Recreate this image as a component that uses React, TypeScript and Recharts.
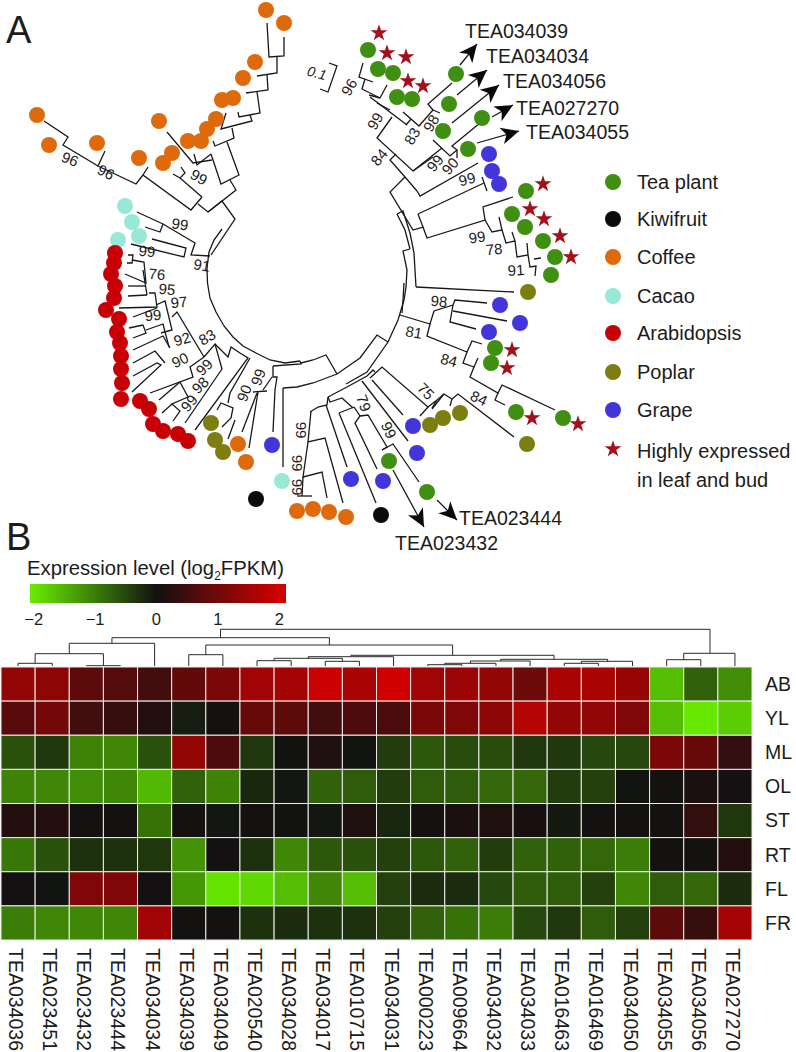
import { ReferenceArea, Scatter, ScatterChart, Symbols, XAxis, YAxis } from 'recharts'

type Pt = [number, number]

const FONT = '"Liberation Sans", Arial, sans-serif'
const INK = '#1c1c1c'

// tree tips
const teaPlant: Pt[] = [[368,50],[378,69],[393,73],[397,97],[412,99],[456,74],[449,104],[443,131],[482,118],[468,149],[526,191],[512,214],[525,227],[543,241],[555,257],[551,275],[495,348],[491,363],[516,412],[563,418],[389,461],[427,492]]
const kiwifruit: Pt[] = [[256,499],[381,515]]
const coffee: Pt[] = [[266,10],[284,23],[255,62],[243,78],[222,100],[233,98],[216,119],[207,129],[188,141],[201,141],[159,121],[139,158],[172,153],[163,163],[97,143],[49,145],[37,115],[238,444],[246,462],[297,511],[313,509],[329,512],[346,517]]
const cacao: Pt[] = [[125,206],[132,222],[139,236],[118,240],[282,481]]
const arabidopsis: Pt[] = [[115,253],[114,263],[111,274],[115,286],[114,298],[106,310],[119,319],[117,332],[120,343],[121,356],[121,369],[122,383],[121,399],[140,401],[149,409],[153,424],[163,431],[178,434],[188,441]]
const poplar: Pt[] = [[211,423],[215,440],[223,452],[528,292],[527,444],[430,425],[443,418],[460,413]]
const grape: Pt[] = [[489,154],[492,171],[499,184],[500,305],[520,323],[489,332],[413,426],[417,453],[383,481],[351,479],[272,445]]
const stars: Pt[] = [[379,33],[387,53],[406,57],[408,81],[423,86],[543,184],[530,209],[544,219],[560,236],[571,257],[512,350],[507,368],[532,418],[578,424]]

const speciesNames = ['Tea plant', 'Kiwifruit', 'Coffee', 'Cacao', 'Arabidopsis', 'Poplar', 'Grape']
const speciesTips = [teaPlant, kiwifruit, coffee, cacao, arabidopsis, poplar, grape]
const speciesColors = ['#3f8f12', '#0b0b0b', '#de6a0c', '#98e8d8', '#c80006', '#7c7e12', '#4335dc']
const legendY = [182, 219, 257, 296, 333, 372, 410]

// branches of the tree, one polyline per list
const coreArcs: Pt[][] = [
  [[222,229],[214,240],[209,252],[207,268],[207.5,283],[210,298],[216,312],[224,326],[233,337],[243,346],[256,353],[270,360],[285,363],[300,361]],
  [[273,366],[301,364],[300,361]],
  [[301,363],[313,360],[326,355],[337,374]],
  [[283,388],[297,387],[313,383],[337,374],[360,358],[377,335],[388,342]],
  [[346,384],[367,372],[388,342],[398,320],[404,300],[406,287],[407,270],[403,251],[410,249]],
  [[404,283],[403,300],[402,313]],
  [[397,214],[405,230],[410,249]],
  [[397,214],[403,211],[410,233],[414,253],[416,287]],
]
const coffeeBranches: Pt[][] = [
  [[267,23],[269,57],[284,56],[284,37]],
  [[277,57],[277,73],[257,76]],
  [[267,75],[268,90],[246,93]],
  [[257,92],[260,113],[239,117],[238,112]],
  [[250,115],[252,121],[221,129],[226,113]],
  [[232,128],[234,138],[215,146],[213,141]],
  [[227,142],[239,175],[221,184],[211,154]],
  [[211,154],[197,165],[194,154]],
  [[167,132],[193,163],[212,160]],
  [[230,180],[236,190],[208,212],[198,204]],
  [[202,197],[191,210],[143,175],[148,167]],
  [[173,174],[180,178],[185,173],[181,167]],
  [[180,178],[202,197]],
  [[143,175],[136,184],[98,166],[105,151]],
  [[98,166],[63,145],[68,137],[44,121]],
  [[208,212],[222,201],[235,219],[211,255]],
  [[257,393],[242,432]],
  [[253,392],[267,391]],
  [[258,392],[249,448]],
  [[311,411],[308,442],[325,438],[343,503]],
  [[308,442],[303,477],[322,472],[327,498]],
  [[303,477],[302,496]],
  [[297,496],[312,496]],
]
const cacaoBranches: Pt[][] = [
  [[137,212],[163,224],[160,232],[145,227]],
  [[163,224],[195,243],[191,255],[210,256]],
  [[152,239],[186,248],[184,257],[131,244]],
  [[283,388],[283,467]],
]
const arabidopsisBranches: Pt[][] = [
  [[128,255],[133,255],[132,263],[127,263]],
  [[132,260],[144,262],[146,283],[125,274]],
  [[146,286],[128,286]],
  [[147,295],[128,296]],
  [[143,270],[147,295]],
  [[149,293],[155,293],[157,307],[119,308]],
  [[156,305],[165,301],[172,330],[161,333]],
  [[133,317],[157,308]],
  [[172,317],[177,312],[204,357]],
  [[204,357],[215,344],[222,369],[185,423]],
  [[204,357],[190,367],[193,377],[150,393]],
  [[180,382],[159,400]],
  [[180,382],[188,397],[172,404],[180,411],[173,421]],
  [[172,404],[162,413]],
  [[143,325],[129,328]],
  [[143,325],[146,333],[133,338]],
  [[146,330],[163,324],[169,347]],
  [[133,350],[163,336],[170,348]],
  [[133,363],[155,351],[165,363]],
  [[133,376],[157,363],[161,365],[132,392]],
  [[215,344],[228,357],[231,347],[240,353],[248,358],[195,430]],
]
const poplarBranches: Pt[][] = [
  [[250,358],[230,393],[228,403]],
  [[217,410],[221,403],[233,408],[231,418],[222,427]],
  [[235,420],[228,439]],
  [[416,287],[514,292]],
]
const grapeBranches: Pt[][] = [
  [[273,366],[273,377],[277,377],[275,390],[273,432]],
  [[263,390],[272,377]],
  [[418,214],[484,183]],
  [[482,177],[487,191]],
  [[417,191],[420,196],[478,163]],
  [[400,315],[430,324],[434,311],[453,305],[455,300],[487,303]],
  [[453,305],[450,322],[476,329]],
  [[453,311],[507,321]],
  [[372,380],[403,415]],
  [[362,381],[408,441]],
  [[339,413],[354,407]],
  [[326,405],[347,467]],
]
const teaBranches: Pt[][] = [
  [[363,63],[359,77],[373,82]],
  [[365,79],[362,89],[380,98],[387,85]],
  [[369,95],[380,98]],
  [[370,97],[407,125]],
  [[377,103],[390,110]],
  [[392,117],[377,138],[413,171],[433,157]],
  [[413,171],[442,148]],
  [[396,154],[390,160],[405,177],[417,191]],
  [[405,177],[390,192],[413,230],[423,227],[418,214]],
  [[403,112],[419,126],[433,110],[428,104],[452,83]],
  [[433,110],[440,113]],
  [[406,125],[411,119]],
  [[433,140],[450,156],[457,150],[452,146],[480,123]],
  [[457,150],[457,158]],
  [[423,227],[427,238],[485,220],[483,207],[513,197]],
  [[485,220],[492,232],[502,230],[499,217]],
  [[502,230],[506,243],[515,241],[512,232]],
  [[515,241],[517,257],[528,255],[527,243]],
  [[528,255],[530,267],[536,266],[535,276]],
  [[534,259],[541,258]],
  [[430,324],[427,336],[467,352],[472,341],[482,344]],
  [[467,352],[463,363],[474,367],[478,358]],
  [[474,367],[470,377],[498,393],[502,385],[555,410]],
  [[498,393],[495,400],[505,405]],
  [[328,397],[347,387],[367,376],[373,370],[375,372]],
  [[310,412],[318,407],[327,405],[328,397]],
  [[328,397],[330,402],[342,398],[353,408]],
  [[339,413],[376,503]],
  [[354,407],[360,416],[355,423],[377,469]],
  [[360,416],[368,415],[387,447],[382,450]],
  [[382,450],[393,444],[419,482]],
  [[370,378],[382,367],[428,407],[420,416]],
  [[428,407],[437,400],[432,408]],
  [[437,400],[444,394],[452,399],[450,406]],
  [[444,394],[432,409]],
  [[452,399],[458,394],[514,437]],
]
const scaleBar: Pt[] = [[329,63],[337,66],[328,92],[320,89]]
const arrowTails: Pt[] = [[460,65],[457,95],[452,123],[492,117],[477,143],[393,470],[437,500]]
const arrowTips: Pt[] = [[477,44],[487,70],[499,85],[513,105],[519,131],[424,527],[457,520]]

const supportLabels: [number, number, string, number][] = [
  [70,159,'96',22],[106,172,'96',28],[199,177,'99',30],[180,224,'99',8],[147,251,'99',5],[202,265,'91',10],
  [157,274,'76',5],[167,289,'95',5],[179,302,'97',-6],[153,315,'99',-6],[182,339,'92',-16],[207,337,'83',-30],
  [180,360,'90',-25],[204,367,'99',-45],[200,385,'98',-45],[189,403,'99',-50],[244,393,'90',-70],[258,377,'99',-70],
  [349,87,'96',-60],[375,121,'99',-60],[412,136,'83',-60],[431,123,'98',-60],[379,157,'84',-50],[435,163,'99',-50],[450,166,'90',-50],
  [467,179,'99',-15],[477,237,'99',-10],[494,249,'78',-5],[516,270,'91',-4],[439,301,'98',5],[414,332,'81',10],[449,360,'84',15],
  [479,398,'84',25],[426,391,'75',45],[364,403,'79',70],[389,430,'99',65],[301,430,'99',90],[297,463,'99',90],[297,487,'99',90],
]
const geneCallouts: [number, number, string][] = [
  [465,31,'TEA034039'],[486,56,'TEA034034'],[503,81,'TEA034056'],[516,108,'TEA027270'],[526,132,'TEA034055'],[459,518,'TEA023444'],[395,543,'TEA023432'],
]

// heat map
const genes = ['TEA034036','TEA023451','TEA023432','TEA023444','TEA034034','TEA034039','TEA034049','TEA020540','TEA034028','TEA034017','TEA010715','TEA034031','TEA000223','TEA009664','TEA034032','TEA034033','TEA016463','TEA016469','TEA034050','TEA034055','TEA034056','TEA027270']
const tissues = ['AB', 'YL', 'ML', 'OL', 'ST', 'RT', 'FL', 'FR']
const rowAB = [1.35,1.3,0.8,0.7,0.5,0.85,1.1,1.5,1.55,1.95,1.6,2,1.5,1.45,1.35,0.95,1.6,1.6,1.4,-1.6,-0.75,-1.15]
const rowYL = [0.75,1.05,0.5,0.4,0.2,-0.1,0.05,0.9,0.8,0.5,0.65,0.6,1.1,1.15,1.3,1.7,1.35,1.35,1.15,-1.6,-2,-1.75]
const rowML = [-0.6,-0.35,-1.05,-1.1,-0.6,1.35,0.65,-0.35,-0.02,0.15,-0.03,-0.4,-0.65,-0.55,-0.55,-0.35,-0.35,-0.5,-0.5,1.1,0.9,0.35]
const rowOL = [-1.05,-1.1,-1.15,-1.1,-1.55,-0.75,-1.05,-0.2,-0.05,-0.75,-0.7,-0.4,-0.7,-0.7,-0.8,-0.8,-0.4,-0.45,-0.03,0.03,0.1,0.02]
const rowST = [0.2,0.2,0.05,0.05,-0.9,0.05,-0.05,0.03,-0.02,-0.05,0.15,-0.2,0.05,0.1,0.15,0.07,-0.08,0.03,0.03,0.03,0.35,-0.35]
const rowRT = [-0.95,-0.6,-0.3,-0.3,-0.35,-1.2,0.02,-0.3,-1.1,-0.65,-0.6,-0.45,-0.65,-0.75,-0.4,-0.75,-0.75,-0.8,-1,0.03,0.03,0.2]
const rowFL = [0.02,-0.03,1.15,1.15,0.02,-1.25,-1.95,-1.85,-1.6,-1.1,-1.6,-0.45,-0.25,-0.25,-0.5,-0.7,-0.7,-0.45,-1.1,-0.7,-0.8,-0.25]
const rowFR = [-1,-1.1,-1.1,-1.1,1.5,0.03,0.05,-0.3,-0.25,-0.3,-0.3,-0.45,-0.75,-0.9,-1,-0.5,-0.35,-0.7,-0.45,0.8,0.4,1.55]
const heatRows = [rowAB, rowYL, rowML, rowOL, rowST, rowRT, rowFL, rowFR]
const colorTicks = [-2, -1, 0, 1, 2]

// dendrogram merges: left column, right column, height, left base, right base
const merges: number[][] = [
  [0,1,3.7,1,1],[2,3,1.3,1,1],[0.5,2.5,13.3,3.7,1.3],[1.5,4,23.7,13.3,1],[5,6,12.3,1,1],[7,8,6.3,1,1],[9,10,5.7,1,1],
  [7.5,9.5,8.7,6.3,5.7],[8.5,11,10.3,8.7,1],[12,13,2.3,1,1],[12.5,14,3.7,2.3,1],[13.25,15,6,3.7,1],[16,17,3.7,1,1],
  [16.5,18,5.7,3.7,1],[14.14,17.27,7.7,6,5.7],[9.75,15.7,11.7,10.3,7.7],[5.5,12.73,22,12.3,11.7],[2.75,9.12,29.3,23.7,22],
  [19,20,7.3,1,1],[19.5,21,13.7,7.3,1],[5.93,20.27,37.7,29.3,13.7],
]

const heatColor = (v: number) => {
  const t = Math.min(Math.abs(v) / 2, 1)
  const mix = (a: number, b: number) => Math.round(a + (b - a) * t)
  return v >= 0 ? `rgb(${mix(17, 208)},${mix(17, 0)},${mix(17, 0)})` : `rgb(${mix(17, 102)},${mix(17, 232)},${mix(17, 0)})`
}

const heatCells = heatRows.flatMap((row, r) => row.map((value, c) => ({ col: c, row: r, value })))
const asPoints = (pts: Pt[]) => pts.map(([x, y]) => ({ x, y }))
const allBranches = [...coreArcs, ...coffeeBranches, ...cacaoBranches, ...arabidopsisBranches, ...poplarBranches, ...grapeBranches, ...teaBranches, ...arrowTails.map((t, i) => [t, arrowTips[i]]), scaleBar]

const NoDot = () => null

const Tip = ({ cx, cy, fill }: any) => <circle cx={cx} cy={cy} r={8} fill={fill} />
const Star = ({ cx, cy }: any) => <Symbols cx={cx} cy={cy} type="star" size={88} sizeType="area" fill="#a30f1a" />

const Arrowhead = ({ cx, cy, payload }: any) => (
  <polygon points="0,0 -18,-8.5 -13,0 -18,8.5" fill="#0a0a0a" transform={`translate(${cx} ${cy}) rotate(${payload.angle})`} />
)

const Note = ({ cx, cy, payload }: any) => (
  <text x={cx} y={cy} transform={payload.angle ? `rotate(${payload.angle} ${cx} ${cy})` : undefined}
    textAnchor={payload.anchor ?? 'middle'} dominantBaseline="central" fontFamily={FONT} fontSize={payload.size} fontStyle={payload.italic ? 'italic' : undefined} fill={INK}>
    {payload.text}
  </text>
)

const CellRect = ({ cx, cy, payload }: any) => {
  const w = 751 / 22
  const h = 273 / 8
  return <rect x={cx - w / 2} y={cy - h / 2} width={w} height={h} fill={heatColor(payload.value)} stroke="#ececec" strokeWidth={1} />
}

const GeneTick = ({ x, y, payload }: any) => (
  <text x={x - 2} y={y} transform={`rotate(90 ${x - 2} ${y})`} dominantBaseline="central" fontFamily={FONT} fontSize={19.5} fill={INK}>
    {genes[payload.value]}
  </text>
)

const legendDots = (i: number) => [{ x: 613, y: legendY[i] }]
const noteData = [
  ...supportLabels.map(([x, y, text, angle]) => ({ x, y, text, angle, size: 15 })),
  ...geneCallouts.map(([x, y, text]) => ({ x, y, text, size: 19.5, anchor: 'start' })),
  ...speciesNames.map((text, i) => ({ x: 637, y: legendY[i], text, size: 20, anchor: 'start' })),
  { x: 637, y: 451, text: 'Highly expressed', size: 20, anchor: 'start' },
  { x: 637, y: 480, text: 'in leaf and bud', size: 20, anchor: 'start' },
  { x: 317, y: 73, text: '0.1', angle: 15, size: 14, italic: true },
]
const arrowData = arrowTips.map(([x, y], i) => ({
  x, y, angle: (Math.atan2(y - arrowTails[i][1], x - arrowTails[i][0]) * 180) / Math.PI,
}))
const keyPoints = colorTicks.map((x) => ({ x, y: 0.5 }))

const place = (left: number, top: number) => ({ position: 'absolute' as const, left, top })

export default function App() {
  return (
    <div style={{ position: 'absolute', left: 0, top: 0, width: 796, height: 1052, background: '#fff', fontFamily: FONT, color: INK }}>
      <div style={{ ...place(6, 10), fontSize: 38, lineHeight: '40px' }}>A</div>
      <div style={{ ...place(6, 517), fontSize: 38, lineHeight: '40px' }}>B</div>
      <div style={{ ...place(27, 557), fontSize: 20.3, lineHeight: '22px', whiteSpace: 'nowrap' }}>
        Expression level (log<sub style={{ fontSize: 12, lineHeight: 0 }}>2</sub>FPKM)
      </div>

      {/* panel A, the tree */}
      <div style={place(0, 0)}>
        <ScatterChart width={796} height={560} margin={{ top: 0, right: 0, bottom: 0, left: 0 }}>
          <XAxis type="number" dataKey="x" domain={[0, 796]} hide />
          <YAxis type="number" dataKey="y" domain={[0, 560]} reversed hide />
          {allBranches.map((b, i) => (
            <Scatter key={i} data={asPoints(b)} shape={NoDot} line={{ stroke: '#181818', strokeWidth: 1.3, fill: 'none' }} isAnimationActive={false} />
          ))}
          {speciesTips.map((tips, i) => (
            <Scatter key={speciesNames[i]} name={speciesNames[i]} data={asPoints(tips)} fill={speciesColors[i]} shape={Tip} isAnimationActive={false} />
          ))}
          {speciesNames.map((name, i) => (
            <Scatter key={`legend-${name}`} data={legendDots(i)} fill={speciesColors[i]} shape={Tip} isAnimationActive={false} />
          ))}
          <Scatter data={asPoints(stars)} shape={Star} isAnimationActive={false} />
          <Scatter data={[{ x: 613, y: 449 }]} shape={Star} isAnimationActive={false} />
          <Scatter data={arrowData} shape={Arrowhead} isAnimationActive={false} />
          <Scatter data={noteData} shape={Note} isAnimationActive={false} />
        </ScatterChart>
      </div>

      {/* colour key */}
      <div style={place(10, 584)}>
        <ScatterChart width={296} height={44} margin={{ top: 0, right: 20, bottom: 0, left: 20 }}>
          <defs>
            <linearGradient id="expressionKey" x1="0" y1="0" x2="1" y2="0">
              {colorTicks.map((v) => (
                <stop key={v} offset={`${((v + 2.06) / 4.17) * 100}%`} stopColor={heatColor(v)} />
              ))}
            </linearGradient>
          </defs>
          <XAxis type="number" dataKey="x" domain={[-2.06, 2.11]} ticks={colorTicks} interval={0} height={25} axisLine={false} tickLine={false}
            tickMargin={4} tick={{ fontFamily: FONT, fontSize: 16.5, fill: INK }} tickFormatter={(v: number) => (v < 0 ? `\u2212${-v}` : `${v}`)} />
          <YAxis type="number" dataKey="y" domain={[0, 1]} hide />
          <ReferenceArea x1={-2.06} x2={2.11} y1={0} y2={1} fill="url(#expressionKey)" fillOpacity={1} stroke="none" />
          <Scatter data={keyPoints} shape={NoDot} isAnimationActive={false} />
        </ScatterChart>
      </div>

      {/* dendrogram over the columns */}
      <div style={place(1, 625)}>
        <ScatterChart width={751} height={42} margin={{ top: 0, right: 0, bottom: 0, left: 0 }}>
          <XAxis type="number" dataKey="x" domain={[-0.5, 21.5]} hide />
          <YAxis type="number" dataKey="y" domain={[0, 42]} hide />
          {merges.map(([l, r, h, bl, br], i) => (
            <Scatter key={i} data={[{ x: l, y: bl }, { x: l, y: h }, { x: r, y: h }, { x: r, y: br }]} shape={NoDot}
              line={{ stroke: '#2a2a2a', strokeWidth: 1, fill: 'none' }} isAnimationActive={false} />
          ))}
        </ScatterChart>
      </div>

      {/* panel B, the heat map */}
      <div style={place(0, 660)}>
        <ScatterChart width={796} height={392} margin={{ top: 7, right: 0, bottom: 0, left: 1 }}>
          <XAxis type="number" dataKey="col" domain={[-0.5, 21.5]} ticks={genes.map((_, i) => i)} interval={0} height={112} axisLine={false} tickLine={false} tick={<GeneTick />} />
          <YAxis type="number" dataKey="row" domain={[-0.5, 7.5]} ticks={tissues.map((_, i) => i)} interval={0} reversed orientation="right" width={44} axisLine={false} tickLine={false}
            tickMargin={7} tick={{ fontFamily: FONT, fontSize: 19.5, fill: INK }} tickFormatter={(v: number) => tissues[v]} />
          <Scatter data={heatCells} shape={CellRect} isAnimationActive={false} />
        </ScatterChart>
      </div>
    </div>
  )
}
